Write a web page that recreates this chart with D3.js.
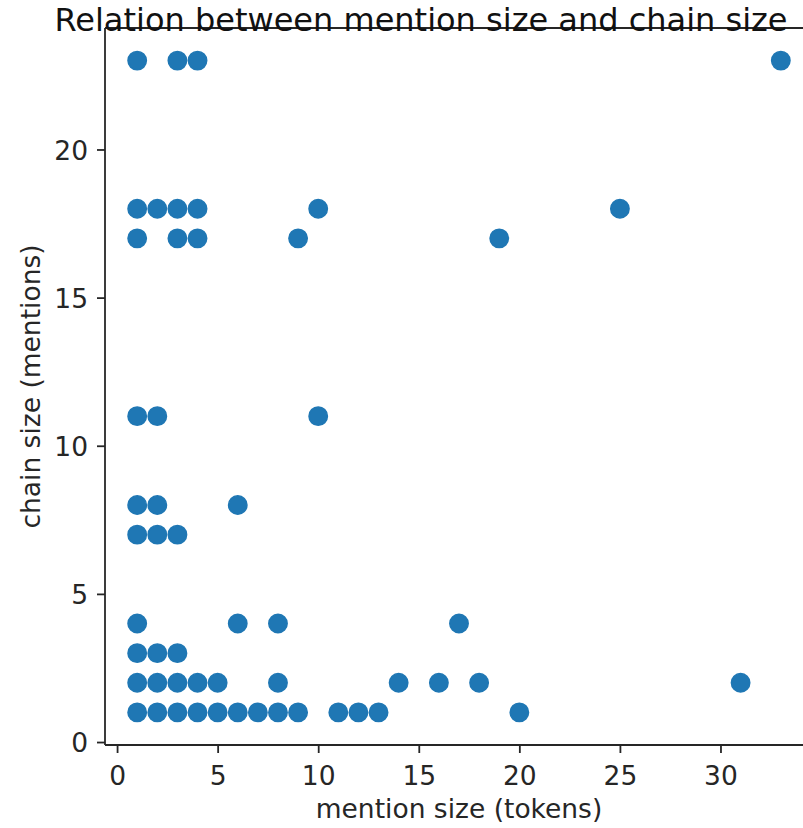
<!DOCTYPE html>
<html>
<head>
<meta charset="utf-8">
<script src="https://cdn.jsdelivr.net/npm/d3@7"></script>
<style>
  html, body { margin: 0; padding: 0; background: #fff; }
  svg { display: block; font-family: "DejaVu Sans", sans-serif; }
</style>
</head>
<body>
<svg id="chart" width="803" height="828"></svg>
<script>
// Data: mention size (tokens) vs chain size (mentions)
const mentionSize = [
  1, 3, 4, 33,
  1, 2, 3, 4, 10, 25,
  1, 3, 4, 9, 19,
  1, 2, 10,
  1, 2, 6,
  1, 2, 3,
  1, 6, 8, 17,
  1, 2, 3,
  1, 2, 3, 4, 5, 8, 14, 16, 18, 31,
  1, 2, 3, 4, 5, 6, 7, 8, 9, 11, 12, 13, 20
];
const chainSize = [
  23, 23, 23, 23,
  18, 18, 18, 18, 18, 18,
  17, 17, 17, 17, 17,
  11, 11, 11,
  8, 8, 8,
  7, 7, 7,
  4, 4, 4, 4,
  3, 3, 3,
  2, 2, 2, 2, 2, 2, 2, 2, 2, 2,
  1, 1, 1, 1, 1, 1, 1, 1, 1, 1, 1, 1, 1
];
const xTicks = [0, 5, 10, 15, 20, 25, 30];
const yTicks = [0, 5, 10, 15, 20];
const titleText = "Relation between mention size and chain size";
const xLabel = "mention size (tokens)";
const yLabel = "chain size (mentions)";

(function () {
const svg = d3.select("#chart");
const pLeft = 105, pRight = 813, pTop = 28, pBottom = 745;
const x = d3.scaleLinear().domain([-0.6, 34.6]).range([pLeft, pRight]);
const y = d3.scaleLinear().domain([-0.1, 24.1]).range([pBottom, pTop]);

const fs = 26.5;
const dark = "#262626";

// points
const pts = mentionSize.map((v, i) => ({x: v, y: chainSize[i]}));
svg.append("g").selectAll("circle").data(pts).join("circle")
  .attr("cx", d => x(d.x))
  .attr("cy", d => y(d.y))
  .attr("r", 9.2)
  .attr("fill", "#1f77b4")
  .attr("stroke", "#1f77b4")
  .attr("stroke-width", 1.5);

// axes
const xAxis = d3.axisBottom(x).tickValues(xTicks).tickSize(8).tickPadding(8).tickFormat(d3.format("d"));
const yAxis = d3.axisLeft(y).tickValues(yTicks).tickSize(8).tickPadding(9).tickFormat(d3.format("d"));

const gx = svg.append("g").attr("transform", `translate(0,${pBottom})`).call(xAxis);
const gy = svg.append("g").attr("transform", `translate(${pLeft},0)`).call(yAxis);
[gx, gy].forEach(g => {
  g.select(".domain").remove();
  g.selectAll(".tick line").attr("stroke", dark).attr("stroke-width", 1.8);
  g.selectAll(".tick text").attr("fill", dark).style("font-size", fs + "px")
    .style("font-family", "'DejaVu Sans', sans-serif");
});
gx.selectAll(".tick text").attr("dy", null).attr("y", 40);
gy.selectAll(".tick text").attr("dy", "0.36em");

// spines: left, bottom, top (right is outside the view)
svg.append("line").attr("x1", pLeft).attr("x2", pLeft).attr("y1", pTop).attr("y2", pBottom)
  .attr("stroke", dark).attr("stroke-width", 1.8);
svg.append("line").attr("x1", pLeft).attr("x2", pRight).attr("y1", pBottom).attr("y2", pBottom)
  .attr("stroke", dark).attr("stroke-width", 1.8);
svg.append("line").attr("x1", pLeft).attr("x2", pRight).attr("y1", pTop).attr("y2", pTop)
  .attr("stroke", dark).attr("stroke-width", 1.8);

// labels
svg.append("text").attr("x", (pLeft + pRight) / 2).attr("y", 818)
  .attr("text-anchor", "middle").attr("fill", dark).style("font-size", fs + "px")
  .text(xLabel);
svg.append("text").attr("transform", `translate(40,${(pTop + pBottom) / 2}) rotate(-90)`)
  .attr("text-anchor", "middle").attr("fill", dark).style("font-size", fs + "px")
  .text(yLabel);

// title
svg.append("text").attr("x", 421).attr("y", 31)
  .attr("text-anchor", "middle").attr("fill", "#111").style("font-size", "32px")
  .text(titleText);
})();
</script>
</body>
</html>
